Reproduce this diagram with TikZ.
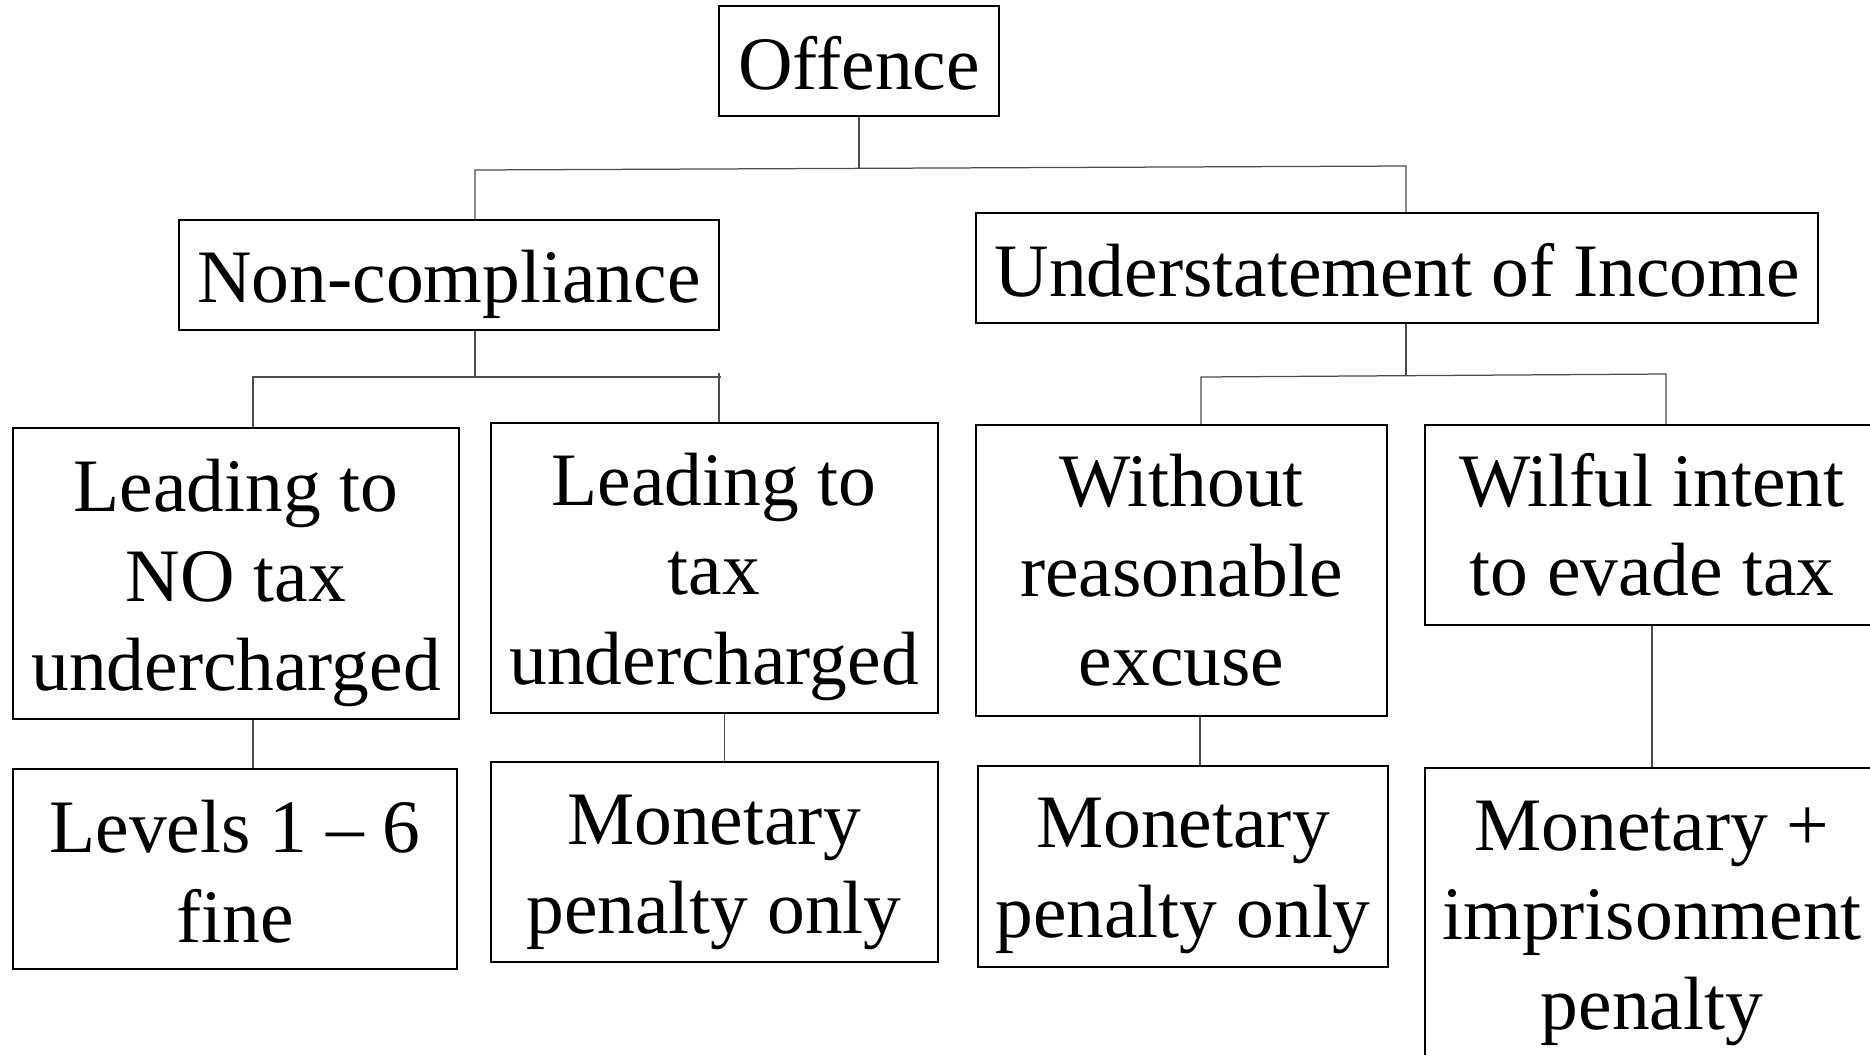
\documentclass[tikz,border=0pt]{standalone}
\usepackage{fontspec}
\setmainfont{Liberation Serif}
\begin{document}
\begin{tikzpicture}[x=0.4pt,y=-0.4pt,
  box/.style={draw=black, line width=0.8pt, rectangle, inner sep=0pt},
  txt/.style={align=center, inner sep=0pt, font=\fontsize{30.2pt}{35.8pt}\selectfont},
  conn/.style={draw=black!70, line width=0.5pt}]
\useasboundingbox (0,0) rectangle (1870,1054);
\clip (0,0) rectangle (1870,1054);

% top level
\node[box, minimum width=112pt, minimum height=44pt,
  label={[txt, yshift=-1pt]center:Offence}] (off) at (859,61) {};

% second level
\node[box, minimum width=216pt, minimum height=44pt,
  label={[txt, yshift=-3.6pt]center:Non-compliance}] (nc) at (449,275) {};
\node[box, minimum width=336.8pt, minimum height=44pt,
  label={[txt, yshift=-0.9pt]center:Understatement of Income}] (ui) at (1397,268) {};

% third level
\node[box, minimum width=178.4pt, minimum height=116.4pt,
  label={[txt, yshift=-3.8pt]center:{Leading to\\NO tax\\undercharged}}] (l1) at (236,573.5) {};
\node[box, minimum width=178.8pt, minimum height=116pt,
  label={[txt, yshift=-3.4pt]center:{Leading to\\tax\\undercharged}}] (l2) at (714,568) {};
\node[box, minimum width=164.4pt, minimum height=116.4pt,
  label={[txt]center:{Without\\reasonable\\excuse}}] (r1) at (1181.5,570.5) {};
\node[box, minimum width=181.6pt, minimum height=80pt,
  label={[txt]center:{Wilful intent\\to evade tax}}] (r2) at (1652,525) {};

% penalties
\node[box, minimum width=177.6pt, minimum height=80pt,
  label={[txt, yshift=-1pt]center:{Levels 1 -- 6\\fine}}] (l1b) at (235,869) {};
\node[box, minimum width=178.8pt, minimum height=80pt,
  label={[txt, yshift=-4.2pt]center:{Monetary\\penalty only}}] (l2b) at (714,862) {};
\node[box, minimum width=164pt, minimum height=80.4pt,
  label={[txt, yshift=-3.8pt]center:{Monetary\\penalty only}}] (r1b) at (1183,866.5) {};
\node[box, minimum width=181.6pt, minimum height=116.8pt,
  label={[txt, yshift=-3.7pt]center:{Monetary +\\imprisonment\\penalty}}] (r2b) at (1652,914) {};

% junction points of the branch lines
\coordinate (b0) at (859,168);
\coordinate (bL) at (475,170);
\coordinate (bR) at (1406,166);
\coordinate (c1) at (475,377);
\coordinate (cL) at (253,377);
\coordinate (cE) at (721,377);
\coordinate (cRt) at (719,373);
\coordinate (d1) at (1406,375.5);
\coordinate (dL) at (1201,377);
\coordinate (dR) at (1666,374);
\coordinate (s1) at (253,0);
\coordinate (s2) at (724.5,0);
\coordinate (s3) at (1200,0);
\coordinate (s4) at (1652,0);

% Offence branches
\draw[conn] (off.south) -- (b0);
\draw[conn] (nc.north -| bL) -- (bL) -- (bR) -- (ui.north -| bR);

% Non-compliance branches
\draw[conn] (nc.south -| c1) -- (c1);
\draw[conn] (l1.north -| cL) -- (cL) -- (cE);
\draw[conn] (cRt) -- (l2.north -| cRt);

% Understatement branches
\draw[conn] (ui.south -| d1) -- (d1);
\draw[conn] (r1.north -| dL) -- (dL) -- (dR) -- (r2.north -| dR);

% penalty links
\draw[conn] (l1.south -| s1) -- (l1b.north -| s1);
\draw[conn] (l2.south -| s2) -- (l2b.north -| s2);
\draw[conn] (r1.south -| s3) -- (r1b.north -| s3);
\draw[conn] (r2.south -| s4) -- (r2b.north -| s4);
\end{tikzpicture}
\end{document}
